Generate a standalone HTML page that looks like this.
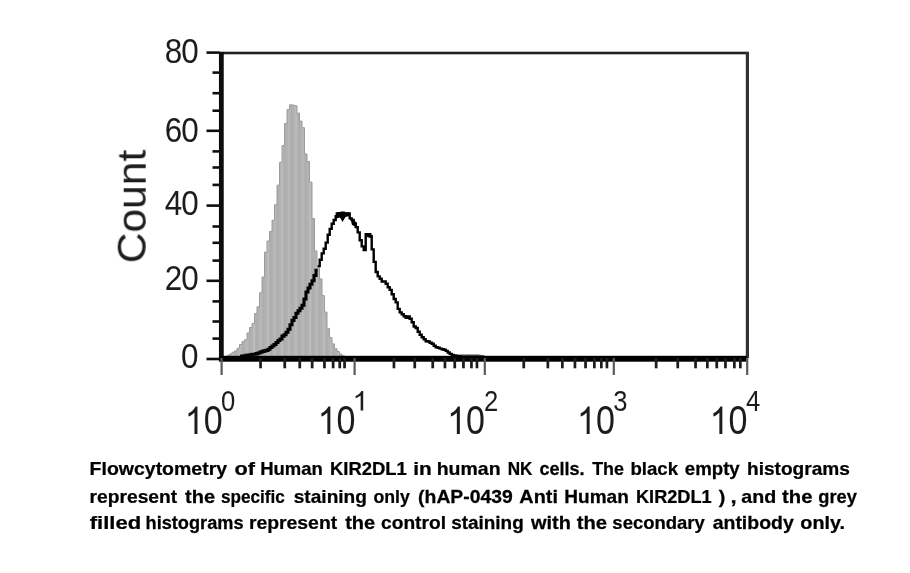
<!DOCTYPE html>
<html><head><meta charset="utf-8">
<style>
html,body{margin:0;padding:0;background:#fff;}
body{width:910px;height:573px;overflow:hidden;font-family:"Liberation Sans",sans-serif;}
svg{display:block;}
text{font-family:"Liberation Sans",sans-serif;}
</style></head><body>
<svg width="910" height="573" viewBox="0 0 910 573">
<defs>
<filter id="b" x="-5%" y="-5%" width="110%" height="110%"><feGaussianBlur stdDeviation="0.6"/></filter>
<filter id="bt" x="-5%" y="-5%" width="110%" height="110%"><feGaussianBlur stdDeviation="0.65"/></filter>
<filter id="b2" x="-5%" y="-5%" width="110%" height="110%"><feGaussianBlur stdDeviation="0.35"/></filter>
<pattern id="st" width="14" height="10" patternUnits="userSpaceOnUse"><rect width="14" height="10" fill="#b2b2b2"/><rect x="1" width="2" height="10" fill="#bbbbbb"/><rect x="4.5" width="1" height="10" fill="#aaaaaa"/><rect x="8" width="1.6" height="10" fill="#b9b9b9"/><rect x="11.2" width="1.2" height="10" fill="#acacac"/></pattern>
</defs>
<rect width="910" height="573" fill="#fff"/>
<g filter="url(#b)">
<path fill="url(#st)" stroke="#9c9c9c" stroke-width="1" d="M227.0,355.3 H229.5 V354.0 H232.0 V352.2 H234.5 V350.9 H237.0 V348.3 H239.5 V344.5 H242.0 V341.6 H244.5 V339.8 H247.0 V333.0 H249.5 V327.5 H252.0 V323.5 H254.5 V313.6 H257.0 V306.8 H259.5 V292.8 H262.0 V277.0 H264.5 V252.1 H267.0 V241.0 H269.5 V231.5 H272.0 V220.3 H274.5 V204.8 H277.0 V185.2 H279.5 V162.4 H282.0 V145.5 H284.5 V123.6 H287.0 V109.6 H289.5 V104.8 H292.0 V105.1 H294.5 V105.8 H297.0 V113.1 H299.5 V121.1 H302.0 V127.7 H304.5 V153.9 H307.0 V161.5 H309.5 V182.0 H312.0 V218.4 H314.5 V250.9 H317.0 V266.1 H319.5 V278.9 H322.0 V295.6 H324.5 V312.1 H327.0 V328.4 H329.5 V337.6 H332.0 V343.9 H334.5 V348.7 H337.0 V351.6 H339.5 V354.1 H342.0 V355.8 H344.5 V357.0 H345.0 V357 H227 Z"/>
<path fill="#444" d="M455,357 L460,354.6 L478,354.4 L484,355.2 L487,357 Z"/>
<rect x="219.95" y="51.7" width="529.05" height="2.6" fill="#222"/>
<rect x="745.8" y="52" width="3.2" height="306" fill="#333"/>
<rect x="218.95" y="52" width="4.8" height="308" fill="#0a0a0a"/>
<rect x="218.95" y="355.8" width="527.6500000000001" height="5.9" fill="#050505"/>
<g fill="#111">
<rect x="206.5" y="51.3" width="13.4" height="2.6"/>
<rect x="206.5" y="129.5" width="13.4" height="2.6"/>
<rect x="206.5" y="204.3" width="13.4" height="2.6"/>
<rect x="206.5" y="279.5" width="13.4" height="2.6"/>
<rect x="206.5" y="357.7" width="13.4" height="2.6"/>
<rect x="212.5" y="71.3" width="7.4" height="2.6"/>
<rect x="212.5" y="91.9" width="7.4" height="2.6"/>
<rect x="212.5" y="109.4" width="7.4" height="2.6"/>
<rect x="212.5" y="150.1" width="7.4" height="2.6"/>
<rect x="212.5" y="166.2" width="7.4" height="2.6"/>
<rect x="212.5" y="183.6" width="7.4" height="2.6"/>
<rect x="212.5" y="225.2" width="7.4" height="2.6"/>
<rect x="212.5" y="241.5" width="7.4" height="2.6"/>
<rect x="212.5" y="259.3" width="7.4" height="2.6"/>
<rect x="212.5" y="300.1" width="7.4" height="2.6"/>
<rect x="212.5" y="320.2" width="7.4" height="2.6"/>
<rect x="212.5" y="337.3" width="7.4" height="2.6"/>
</g>
<rect x="220.5" y="358" width="2.2" height="17" fill="#5a5a5a"/>
<rect x="353.5" y="358" width="2.2" height="17" fill="#5a5a5a"/>
<rect x="483.7" y="358" width="2.2" height="17" fill="#5a5a5a"/>
<rect x="612.7" y="358" width="2.2" height="17" fill="#5a5a5a"/>
<rect x="746.1" y="358" width="2.2" height="17" fill="#5a5a5a"/>
<rect x="259.2" y="358" width="2.7" height="10.3" fill="#1a1a1a"/>
<rect x="283.4" y="358" width="2.7" height="10.3" fill="#1a1a1a"/>
<rect x="298.4" y="358" width="2.7" height="10.3" fill="#1a1a1a"/>
<rect x="310.8" y="358" width="2.7" height="10.3" fill="#1a1a1a"/>
<rect x="323.1" y="358" width="2.7" height="10.3" fill="#1a1a1a"/>
<rect x="331.8" y="358" width="2.7" height="10.3" fill="#1a1a1a"/>
<rect x="338.4" y="358" width="2.7" height="10.3" fill="#1a1a1a"/>
<rect x="343.2" y="358" width="2.7" height="10.3" fill="#1a1a1a"/>
<rect x="392.6" y="358" width="2.7" height="10.3" fill="#1a1a1a"/>
<rect x="413.4" y="358" width="2.7" height="10.3" fill="#1a1a1a"/>
<rect x="431.4" y="358" width="2.7" height="10.3" fill="#1a1a1a"/>
<rect x="443.6" y="358" width="2.7" height="10.3" fill="#1a1a1a"/>
<rect x="453.4" y="358" width="2.7" height="10.3" fill="#1a1a1a"/>
<rect x="462.1" y="358" width="2.7" height="10.3" fill="#1a1a1a"/>
<rect x="470.1" y="358" width="2.7" height="10.3" fill="#1a1a1a"/>
<rect x="475.6" y="358" width="2.7" height="10.3" fill="#1a1a1a"/>
<rect x="522.4" y="358" width="2.7" height="10.3" fill="#1a1a1a"/>
<rect x="546.5" y="358" width="2.7" height="10.3" fill="#1a1a1a"/>
<rect x="561.0" y="358" width="2.7" height="10.3" fill="#1a1a1a"/>
<rect x="573.6" y="358" width="2.7" height="10.3" fill="#1a1a1a"/>
<rect x="584.2" y="358" width="2.7" height="10.3" fill="#1a1a1a"/>
<rect x="593.0" y="358" width="2.7" height="10.3" fill="#1a1a1a"/>
<rect x="600.0" y="358" width="2.7" height="10.3" fill="#1a1a1a"/>
<rect x="605.6" y="358" width="2.7" height="10.3" fill="#1a1a1a"/>
<rect x="654.8" y="358" width="2.7" height="10.3" fill="#1a1a1a"/>
<rect x="676.4" y="358" width="2.7" height="10.3" fill="#1a1a1a"/>
<rect x="694.2" y="358" width="2.7" height="10.3" fill="#1a1a1a"/>
<rect x="706.0" y="358" width="2.7" height="10.3" fill="#1a1a1a"/>
<rect x="715.4" y="358" width="2.7" height="10.3" fill="#1a1a1a"/>
<rect x="724.1" y="358" width="2.7" height="10.3" fill="#1a1a1a"/>
<rect x="733.0" y="358" width="2.7" height="10.3" fill="#1a1a1a"/>
<rect x="739.0" y="358" width="2.7" height="10.3" fill="#1a1a1a"/>
<path fill="none" stroke="#000" stroke-width="3.1" stroke-linejoin="miter" d="M240.0,356.3 H242.0 V356.0 H244.0 V355.8 H246.0 V355.3 H248.0 V355.1 H250.0 V354.7 H252.0 V354.3 H254.0 V354.2 H256.0 V353.6 H258.0 V353.0 H260.0 V352.1 H262.0 V351.4 H264.0 V350.9 H266.0 V350.4 H268.0 V349.2 H270.0 V347.5 H272.0 V346.0 H274.0 V344.5 H276.0 V342.5 H278.0 V340.5 H280.0 V339.0 H282.0 V336.1 H284.0 V334.8 H286.0 V332.2 H288.0 V329.3 H290.0 V324.7 H292.0 V320.4 H294.0 V317.5 H296.0 V313.2 H298.0 V310.7 H300.0 V308.2 H302.0 V305.3 H304.0 V299.0 H306.0 V292.0 H308.0 V288.0 H310.0 V284.2 H312.0 V280.8 H314.0 V275.5 H316.0 V270.3 H317.7"/>
<path fill="none" stroke="#000" stroke-width="2.4" stroke-linejoin="miter" d="M317.7,266.1 H319.7 V259.8 H321.7 V253.4 H323.7 V248.8 H325.7 V242.6 H327.7 V234.7 H329.7 V228.9 H331.7 V223.8 H333.7 V220.0 H335.7 V216.3 H337.7 V213.1 H339.7 V214.8 H341.7 V212.6 H343.7 V213.4 H345.7 V214.3 H347.7 V213.5 H349.7 V218.4 H351.7 V219.9 H353.7 V223.6 H355.7 V227.1 H357.7 V232.4 H359.7 V240.3 H361.7 V246.4 H363.7 V250.1 H365.7 V234.2 H367.7 V234.2 H369.7 V236.3 H371.7 V249.4 H373.7 V261.9 H375.7 V272.0 H377.7 V276.4 H379.7 V278.7 H381.7 V281.5 H383.7 V281.4 H385.7 V283.7 H387.7 V287.3 H389.7 V289.9 H391.7 V294.2 H393.7 V299.0 H395.7 V302.4 H397.7 V308.9 H399.7 V312.4 H401.7 V314.3 H403.7 V316.2 H405.7 V317.8 H407.7 V316.4 H409.7 V318.7 H411.7 V322.3 H413.7 V326.5 H415.7 V328.0 H417.7 V331.7 H419.7 V334.8 H421.7 V337.3 H423.7 V339.2 H425.7 V341.2 H427.7 V341.5 H429.7 V342.7 H431.7 V343.7 H433.7 V345.7 H435.7 V347.2 H437.7 V347.7 H439.7 V348.6 H441.7 V349.2 H443.7 V349.7 H445.7 V350.9 H447.7 V352.5 H449.7 V353.9 H451.7 V354.9 H453.7 V355.4 H455.7 V355.7 H457.7 V356.1 H459.7 V356.5 H461.4"/>
<path fill="#000" d="M335.5,212.4 H349.6 V216 L345.5,217 L342.5,222 L340,217.5 L336,218.5 Z"/>
<path fill="#000" d="M350,217 L356.5,222.5 L357.5,227.5 L352,225 Z"/>
<path fill="#000" d="M365.5,233 H371.5 V238 L367,237 Z"/>
</g>
<g filter="url(#bt)" fill="#1c1c1c">
<g font-size="35.3" text-anchor="end" letter-spacing="-1.2">
<text transform="translate(197.53,63.3) scale(0.89,1)">80</text>
<text transform="translate(197.53,141.6) scale(0.89,1)">60</text>
<text transform="translate(197.53,215.2) scale(0.89,1)">40</text>
<text transform="translate(197.53,290.4) scale(0.89,1)">20</text>
<text transform="translate(197.53,367.8) scale(0.89,1)">0</text>
</g>
<text transform="translate(145.7,206.5) rotate(-90) scale(1.05,1)" font-size="40.5" text-anchor="middle">Count</text>
<text font-size="40" transform="translate(203.69,434) scale(0.85,1)">0</text>
<path transform="translate(184.78,434) scale(0.01660,-0.01869)" d="M763 0H583V1147Q518 1085 412.5 1023Q307 961 223 930V1104Q374 1175 487 1276Q600 1377 647 1472H763Z"/>
<text font-size="40" transform="translate(336.59,434) scale(0.85,1)">0</text>
<path transform="translate(317.68,434) scale(0.01660,-0.01869)" d="M763 0H583V1147Q518 1085 412.5 1023Q307 961 223 930V1104Q374 1175 487 1276Q600 1377 647 1472H763Z"/>
<text font-size="40" transform="translate(466.09,434) scale(0.85,1)">0</text>
<path transform="translate(447.18,434) scale(0.01660,-0.01869)" d="M763 0H583V1147Q518 1085 412.5 1023Q307 961 223 930V1104Q374 1175 487 1276Q600 1377 647 1472H763Z"/>
<text font-size="40" transform="translate(595.89,434) scale(0.85,1)">0</text>
<path transform="translate(576.98,434) scale(0.01660,-0.01869)" d="M763 0H583V1147Q518 1085 412.5 1023Q307 961 223 930V1104Q374 1175 487 1276Q600 1377 647 1472H763Z"/>
<text font-size="40" transform="translate(728.59,434) scale(0.85,1)">0</text>
<path transform="translate(709.68,434) scale(0.01660,-0.01869)" d="M763 0H583V1147Q518 1085 412.5 1023Q307 961 223 930V1104Q374 1175 487 1276Q600 1377 647 1472H763Z"/>
<text font-size="30" transform="translate(221.0,411) scale(0.853,1)">0</text>
<path transform="translate(352.50,410.5) scale(0.01399,-0.01318)" d="M763 0H583V1147Q518 1085 412.5 1023Q307 961 223 930V1104Q374 1175 487 1276Q600 1377 647 1472H763Z"/>
<text font-size="30" transform="translate(484,411) scale(0.853,1)">2</text>
<text font-size="30" transform="translate(613.3,411) scale(0.853,1)">3</text>
<text font-size="30" transform="translate(746,411) scale(0.853,1)">4</text>
</g>
<g font-size="18.0" font-weight="bold" fill="#000" stroke="#000" stroke-width="0.25" filter="url(#b2)">
<text transform="translate(89.58,475.2) scale(1.0834,1)">Flowcytometry</text>
<text transform="translate(234.46,475.2) scale(1.2062,1)">of</text>
<text transform="translate(260.14,475.2) scale(1.0271,1)">Human</text>
<text transform="translate(329.95,475.2) scale(1.0247,1)">KIR2DL1</text>
<text transform="translate(413.18,475.2) scale(1.1611,1)">in</text>
<text transform="translate(436.67,475.2) scale(1.0829,1)">human</text>
<text transform="translate(507.73,475.2) scale(0.9531,1)">NK</text>
<text transform="translate(539.38,475.2) scale(1.0045,1)">cells.</text>
<text transform="translate(592.20,475.2) scale(0.9937,1)">The</text>
<text transform="translate(630.44,475.2) scale(1.0352,1)">black</text>
<text transform="translate(684.76,475.2) scale(1.0380,1)">empty</text>
<text transform="translate(747.00,475.2) scale(1.0611,1)">histograms</text>
<text transform="translate(89.60,502.5) scale(1.0675,1)">represent</text>
<text transform="translate(185.07,502.5) scale(1.1109,1)">the</text>
<text transform="translate(221.02,502.5) scale(0.9527,1)">specific</text>
<text transform="translate(293.75,502.5) scale(1.0608,1)">staining</text>
<text transform="translate(373.40,502.5) scale(0.9835,1)">only</text>
<text transform="translate(418.12,502.5) scale(1.0761,1)">(hAP-0439</text>
<text transform="translate(519.35,502.5) scale(1.1030,1)">Anti</text>
<text transform="translate(564.31,502.5) scale(1.0577,1)">Human</text>
<text transform="translate(635.96,502.5) scale(1.0097,1)">KIR2DL1</text>
<text transform="translate(718.80,502.5) scale(1.0951,1)">)</text>
<text transform="translate(730.61,502.5) scale(1.2313,1)">,</text>
<text transform="translate(741.24,502.5) scale(1.0920,1)">and</text>
<text transform="translate(782.07,502.5) scale(1.1262,1)">the</text>
<text transform="translate(818.27,502.5) scale(1.0157,1)">grey</text>
<text transform="translate(89.72,529.1) scale(1.2241,1)">filled</text>
<text transform="translate(145.56,529.1) scale(1.0106,1)">histograms</text>
<text transform="translate(248.89,529.1) scale(1.0774,1)">represent</text>
<text transform="translate(345.17,529.1) scale(1.1109,1)">the</text>
<text transform="translate(381.05,529.1) scale(1.0648,1)">control</text>
<text transform="translate(451.15,529.1) scale(1.0519,1)">staining</text>
<text transform="translate(530.91,529.1) scale(1.1108,1)">with</text>
<text transform="translate(576.67,529.1) scale(1.1262,1)">the</text>
<text transform="translate(612.37,529.1) scale(1.0253,1)">secondary</text>
<text transform="translate(712.65,529.1) scale(1.0821,1)">antibody</text>
<text transform="translate(800.33,529.1) scale(1.0995,1)">only.</text>
</g>
</svg>
</body></html>
